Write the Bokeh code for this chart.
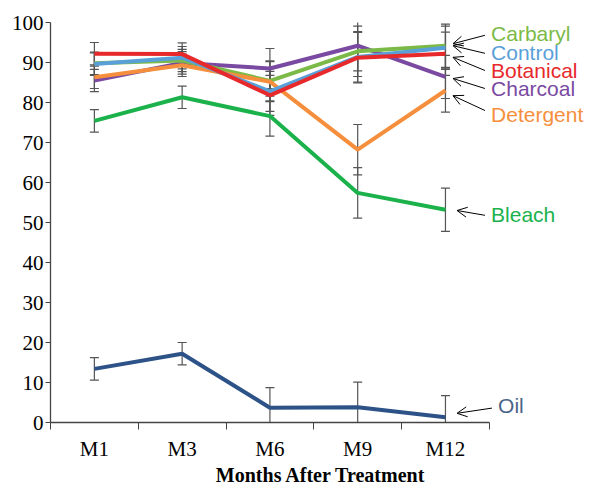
from bokeh.plotting import figure
from bokeh.models import (FixedTicker, Whisker, ColumnDataSource, TeeHead, Arrow,
                          OpenHead, Range1d)
from bokeh.embed import file_html
from bokeh.resources import INLINE
from bokeh.core.properties import value

# ---------------- data ----------------
months = ["M1", "M3", "M6", "M9", "M12"]
carbaryl = [89.8, 90.5, 85.4, 92.8, 94.2]
control = [89.6, 91.2, 82.8, 91.4, 93.7]
botanical = [92.2, 92.1, 81.8, 91.2, 92.2]
charcoal = [85.5, 89.9, 88.5, 94.2, 86.4]
detergent = [86.3, 89.3, 85.2, 68.2, 83.0]
bleach = [75.4, 81.3, 76.6, 57.4, 53.2]
oil = [13.4, 17.2, 3.7, 3.8, 1.3]
std_err = [2.8, 2.8, 5.0, 6.3, 5.4]

series_names = ["Oil", "Bleach", "Charcoal", "Carbaryl", "Detergent", "Control", "Botanical"]
series_vals = [oil, bleach, charcoal, carbaryl, detergent, control, botanical]
series_colors = ["#2d5287", "#1bb24b", "#7a4aa2", "#7cba47", "#f68f3d", "#5aa0d8", "#e7292b"]
label_colors = {"Oil": "#4b6489"}

# annotation layout (label centre y, arrow start y, arrow tip x/y)
label_layout = {
    "Carbaryl":  (97.2, 96.8, 5.086, 94.7),
    "Control":   (92.5, 92.3, 5.086, 94.2),
    "Botanical": (88.0, 88.0, 5.086, 91.3),
    "Charcoal":  (83.5, 83.5, 5.086, 86.0),
    "Detergent": (77.0, 78.0, 5.086, 81.7),
    "Bleach":    (52.0, 51.8, 5.132, 53.0),
    "Oil":       (4.3, 3.6, 5.132, 2.3),
}

xs = list(range(1, len(months) + 1))

p = figure(width=591, height=488, x_range=Range1d(0.5, 6.664), y_range=Range1d(0, 100),
           output_backend="svg", toolbar_location=None,
           min_border_left=50, min_border_right=0, min_border_top=22, min_border_bottom=66)
p.outline_line_color = None
p.grid.visible = False
p.background_fill_color = "white"
p.border_fill_color = "white"

# lines
for name, vals, col in zip(series_names, series_vals, series_colors):
    p.line(xs, vals, line_color=col, line_width=4)

# error bars
for vals in series_vals:
    up = [v + e for v, e in zip(vals, std_err)]
    lo = [max(v - e, 0) for v, e in zip(vals, std_err)]
    src = ColumnDataSource(dict(x=xs, upper=up, lower=lo))
    w = Whisker(base="x", upper="upper", lower="lower", source=src,
                line_color="#555555", line_width=1.2,
                upper_head=TeeHead(size=9, line_color="#555555", line_width=1.2),
                lower_head=TeeHead(size=9, line_color="#555555", line_width=1.2))
    p.add_layout(w)

# labels + arrows
for name, col in zip(series_names, series_colors):
    ly, sy, tx, ty = label_layout[name]
    lx = 5.60 if name == "Oil" else 5.52
    p.text(x=[lx], y=[ly], text=[name], text_color=label_colors.get(name, col),
           text_font=value("Liberation Sans"), text_font_size="21px",
           text_baseline="middle", text_align="left")
    sx = 5.53 if name == "Oil" else 5.45
    p.add_layout(Arrow(x_start=sx, y_start=sy, x_end=tx, y_end=ty,
                       line_color="black", line_width=1,
                       end=OpenHead(size=10, line_color="black", line_width=1)))

# axes
axis_col = "#444444"
p.xaxis.ticker = FixedTicker(ticks=xs, minor_ticks=[x - 0.5 for x in xs] + [xs[-1] + 0.5])
p.xaxis.major_label_overrides = {x: m for x, m in zip(xs, months)}
p.xaxis.bounds = (0.5, 5.5)
p.xaxis.major_tick_line_color = None
p.xaxis.major_tick_out = 7
p.xaxis.major_tick_in = 0
p.xaxis.minor_tick_out = 7
p.xaxis.minor_tick_in = 0
p.xaxis.minor_tick_line_color = axis_col
p.xaxis.axis_line_color = axis_col
p.xaxis.major_label_standoff = 7
p.xaxis.axis_label = "Months After Treatment"
p.xaxis.axis_label_text_font = "Liberation Serif"
p.xaxis.axis_label_text_font_style = "bold"
p.xaxis.axis_label_text_font_size = "20px"
p.xaxis.axis_label_standoff = 0
p.xaxis.axis_label_text_color = "black"

p.yaxis.ticker = FixedTicker(ticks=list(range(0, 101, 10)))
p.yaxis.minor_tick_line_color = None
p.yaxis.major_tick_out = 5
p.yaxis.major_tick_in = 0
p.yaxis.major_tick_line_color = axis_col
p.yaxis.axis_line_color = axis_col
p.yaxis.major_label_standoff = 2

for ax in (p.xaxis, p.yaxis):
    ax.major_label_text_font = "Liberation Serif"
    ax.major_label_text_font_size = "21px"
    ax.major_label_text_color = "black"
    ax.axis_line_width = 1.3

open("out.html", "w").write(file_html(p, INLINE))
